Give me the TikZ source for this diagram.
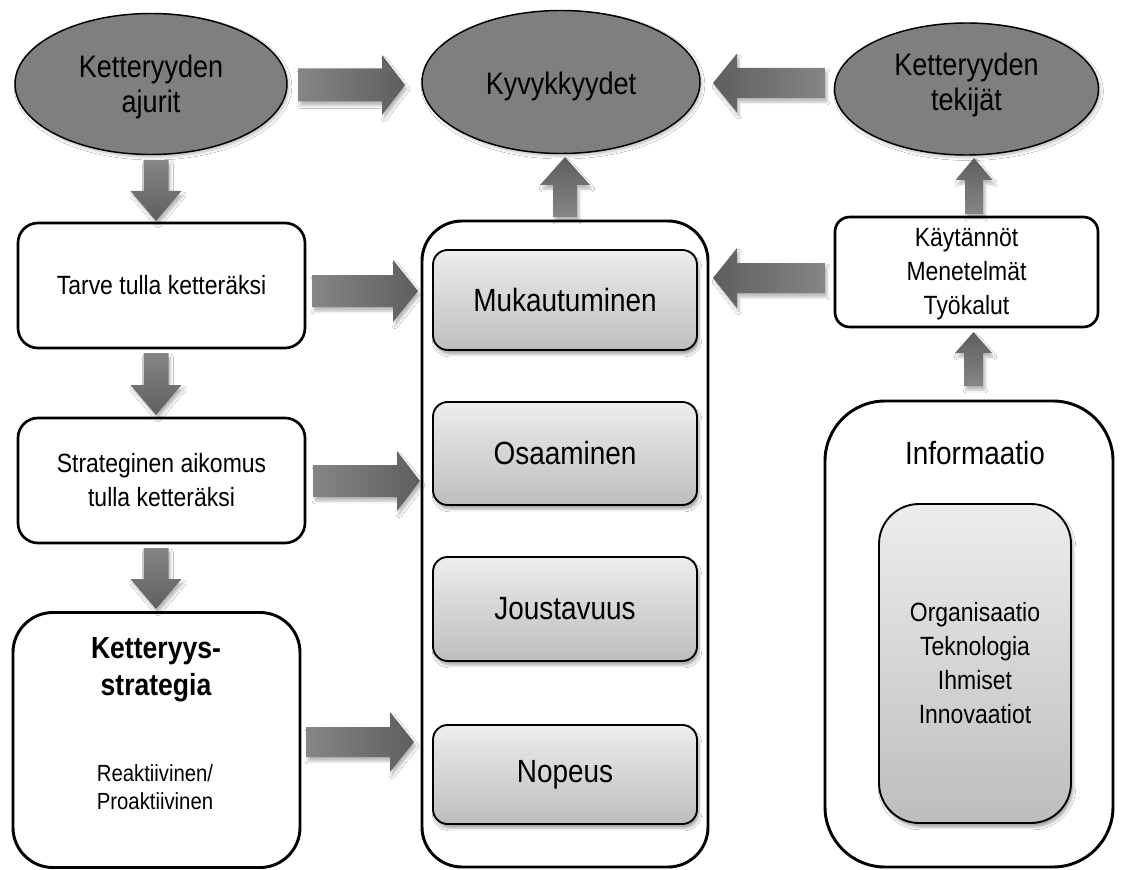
\documentclass[tikz,border=0pt]{standalone}
\usepackage{fontspec}
\setmainfont{Liberation Sans}[FakeStretch=0.87]
\usetikzlibrary{shapes.geometric,calc,shadows.blur}

\definecolor{ovalgray}{HTML}{7F7F7F}
\definecolor{boxtop}{HTML}{EDEDED}
\definecolor{boxbot}{HTML}{BDBDBD}
\definecolor{arrlight}{HTML}{868686}
\definecolor{arrdark}{HTML}{5E5E5E}

\newcommand\pxu{0.75pt}
\newcommand\fOval{\fontsize{23.3}{26.6}\selectfont}
\newcommand\fBox{\fontsize{19.8}{25.5}\selectfont}
\newcommand\fBig{\fontsize{24.1}{28}\selectfont}
\newcommand\fBold{\fontsize{22.9}{27.8}\selectfont\bfseries}
\newcommand\fSmall{\fontsize{17.5}{21}\selectfont}

% block arrow: [style]{tail}{tip}{dx}{dy}{half shaft}{half head}{head length}
\newcommand\blockarrow[8][]{%
  \path[#1] ($(#2)+({-(#6)*(#5)},{(#6)*(#4)})$)
    -- ($(#3)+({-(#8)*(#4)-(#6)*(#5)},{-(#8)*(#5)+(#6)*(#4)})$)
    -- ($(#3)+({-(#8)*(#4)-(#7)*(#5)},{-(#8)*(#5)+(#7)*(#4)})$)
    -- (#3)
    -- ($(#3)+({-(#8)*(#4)+(#7)*(#5)},{-(#8)*(#5)-(#7)*(#4)})$)
    -- ($(#3)+({-(#8)*(#4)+(#6)*(#5)},{-(#8)*(#5)-(#6)*(#4)})$)
    -- ($(#2)+({(#6)*(#5)},{-(#6)*(#4)})$) -- cycle;}

\tikzset{
  every node/.style={align=center, inner sep=0pt, text=black},
  oval/.style={ellipse, draw=black, line width=1.1pt, fill=ovalgray,
    blur shadow={shadow xshift=1.5pt, shadow yshift=-2pt, shadow opacity=25}},
  plainbox/.style={rectangle, rounded corners=15pt, draw=black, line width=2pt, fill=white},
  sidebox/.style={rectangle, rounded corners=11pt, draw=black, line width=2pt, fill=white},
  bigbox/.style={rectangle, rounded corners=30pt, draw=black, line width=2.2pt, fill=white},
  graybox/.style={rectangle, rounded corners=11pt, draw=black, line width=1.4pt,
    top color=boxtop, bottom color=boxbot,
    blur shadow={shadow xshift=1.5pt, shadow yshift=-3pt, shadow opacity=35}},
  arrowbase/.style={blur shadow={shadow xshift=1.5pt, shadow yshift=-3pt, shadow opacity=28}},
  arrR/.style={arrowbase, left color=arrlight, right color=arrdark},
  arrL/.style={arrowbase, left color=arrdark, right color=arrlight},
  arrU/.style={arrowbase, top color=arrdark, bottom color=arrlight},
  arrD/.style={arrowbase, top color=arrlight, bottom color=arrdark},
}

\begin{document}
\begin{tikzpicture}[x=0.75pt, y=-0.75pt]
\fill[white] (0,0) rectangle (1128,870);
\useasboundingbox (0,0) rectangle (1128,870);

% top row: ovals
\node[oval, minimum width=272*\pxu, minimum height=141*\pxu] (ajurit) at (151,84) {};
\node[font=\fOval] (ajuritT) at (151,87) {Ketteryyden\\ajurit};
\node[oval, minimum width=278*\pxu, minimum height=143*\pxu] (kyky) at (561,82) {};
\node[font=\fOval] (kykyT) at (561,86) {Kyvykkyydet};
\node[oval, minimum width=264*\pxu, minimum height=132*\pxu] (tekijat) at (966.5,89) {};
\node[font=\fOval] (tekijatT) at (966.5,85) {Ketteryyden\\tekijät};

% left column
\node[plainbox, minimum width=287*\pxu, minimum height=125*\pxu, font=\fBox] (tarve) at (161.5,285.5) {Tarve tulla ketteräksi};
\node[plainbox, minimum width=287*\pxu, minimum height=125*\pxu, font=\fBox] (aikomus) at (161.5,480.5) {Strateginen aikomus\\tulla ketteräksi};
\node[bigbox, minimum width=287*\pxu, minimum height=255*\pxu] (strategia) at (156.5,740) {};
\node[font=\fBold] (strategiaT) at (156,670) {Ketteryys-\\strategia};
\node[font=\fSmall] (strategiaS) at (155,787) {Reaktiivinen/\\Proaktiivinen};

% middle column
\node[bigbox, minimum width=286*\pxu, minimum height=646*\pxu] (kyvyt) at (565,544) {};
\node[graybox, minimum width=264*\pxu, minimum height=100*\pxu, font=\fBig] (muk) at (565,300) {Mukautuminen};
\node[graybox, minimum width=264*\pxu, minimum height=103*\pxu, font=\fBig] (osa) at (565,453.5) {Osaaminen};
\node[graybox, minimum width=264*\pxu, minimum height=104*\pxu, font=\fBig] (jou) at (565,609) {Joustavuus};
\node[graybox, minimum width=264*\pxu, minimum height=99*\pxu, font=\fBig] (nop) at (565,774.5) {Nopeus};

% right column
\node[sidebox, minimum width=263*\pxu, minimum height=110*\pxu] (kayt) at (966.5,272) {};
\node[font=\fBox] (kaytT) at (966.5,274) {Käytännöt\\Menetelmät\\Työkalut};
\node[rectangle, rounded corners=45pt, draw=black, line width=2.2pt, fill=white,
      minimum width=288*\pxu, minimum height=466*\pxu] (info) at (969,634) {};
\node[font=\fBig] (infoT) at (975,453) {Informaatio};
\node[graybox, rounded corners=30pt, minimum width=192*\pxu, minimum height=319*\pxu, font=\fBox] (tekijatIn) at (975,663.5) {Organisaatio\\Teknologia\\Ihmiset\\Innovaatiot};

% arrow end points
\coordinate (a1t) at (298,85);   \coordinate (a1h) at (405,85);
\coordinate (a2t) at (825,83);   \coordinate (a2h) at (713,83);
\coordinate (a3t) at (156,160);  \coordinate (a3h) at (156,221);
\coordinate (a4t) at (156,353);  \coordinate (a4h) at (156,415);
\coordinate (a5t) at (156,548);  \coordinate (a5h) at (156,609);
\coordinate (a6t) at (312,291);  \coordinate (a6h) at (418,291);
\coordinate (a7t) at (313,481);  \coordinate (a7h) at (420,481);
\coordinate (a8t) at (306,742);  \coordinate (a8h) at (414,742);
\coordinate (a9t) at (565,217);  \coordinate (a9h) at (565,157);
\coordinate (a10t) at (825,278); \coordinate (a10h) at (713,278);
\coordinate (a11t) at (974,214); \coordinate (a11h) at (974,158);
\coordinate (a12t) at (973.5,386); \coordinate (a12h) at (973.5,332);

% block arrows
\blockarrow[arrR]{a1t}{a1h}{1}{0}{16.5}{30}{23}
\blockarrow[arrL]{a2t}{a2h}{-1}{0}{15}{29.5}{24}
\blockarrow[arrD]{a3t}{a3h}{0}{1}{12.5}{25.5}{30}
\blockarrow[arrD]{a4t}{a4h}{0}{1}{12.5}{25.5}{30}
\blockarrow[arrD]{a5t}{a5h}{0}{1}{12.5}{25.5}{30}
\blockarrow[arrR]{a6t}{a6h}{1}{0}{16}{31}{25}
\blockarrow[arrR]{a7t}{a7h}{1}{0}{16}{30}{23}
\blockarrow[arrR]{a8t}{a8h}{1}{0}{15}{30}{24}
\blockarrow[arrU]{a9t}{a9h}{0}{-1}{12}{25}{28}
\blockarrow[arrL]{a10t}{a10h}{-1}{0}{15}{30}{24}
\blockarrow[arrU]{a11t}{a11h}{0}{-1}{9}{18.5}{22}
\blockarrow[arrU]{a12t}{a12h}{0}{-1}{9.5}{18.5}{21}
\end{tikzpicture}
\end{document}
